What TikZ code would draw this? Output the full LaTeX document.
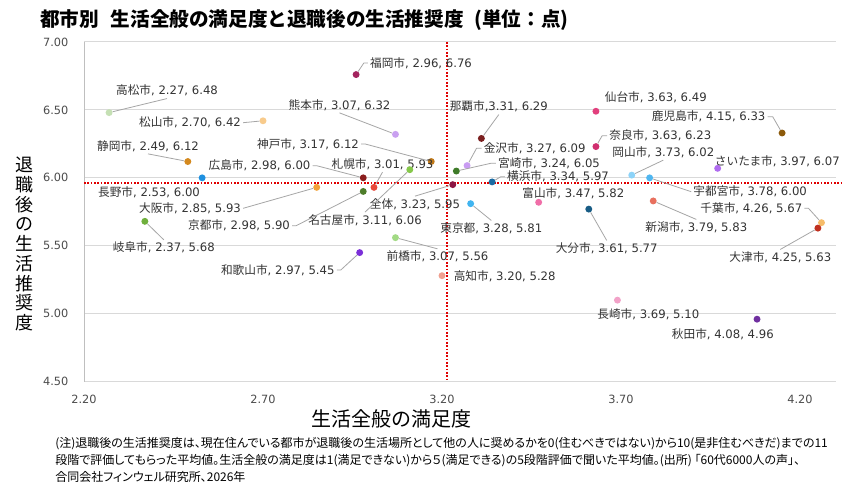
\documentclass[tikz,border=0pt]{standalone}
\usepackage{fontspec}
\setmainfont{DejaVu Sans}
\newfontfamily\jp{Noto Sans CJK JP}
\newfontfamily\jpnote[RawFeature=+palt]{Noto Sans CJK JP}

\definecolor{gridgray}{HTML}{D9D9D9}
\definecolor{leadgray}{HTML}{A6A6A6}
\definecolor{avgred}{HTML}{E00000}
\definecolor{fukuoka}{HTML}{A3245E}
\definecolor{takamatsu}{HTML}{C5E0B4}
\definecolor{kumamoto}{HTML}{C9A0F0}
\definecolor{matsuyama}{HTML}{F8CB8C}
\definecolor{shizuoka}{HTML}{D4891E}
\definecolor{kobe}{HTML}{C07818}
\definecolor{hiroshima}{HTML}{8B1E1E}
\definecolor{sapporo}{HTML}{E8483A}
\definecolor{nagano}{HTML}{1E90E0}
\definecolor{osaka}{HTML}{F2A33A}
\definecolor{kyoto}{HTML}{4E7D2A}
\definecolor{nagoya}{HTML}{86C84A}
\definecolor{zentai}{HTML}{8B1744}
\definecolor{tokyo}{HTML}{40B4F0}
\definecolor{maebashi}{HTML}{A2DA84}
\definecolor{kochi}{HTML}{F0A090}
\definecolor{gifu}{HTML}{6FAF3C}
\definecolor{wakayama}{HTML}{7B2FD8}
\definecolor{naha}{HTML}{7A1F1F}
\definecolor{sendai}{HTML}{E23F7D}
\definecolor{kagoshima}{HTML}{8C5A0A}
\definecolor{nara}{HTML}{D02F6F}
\definecolor{kanazawa}{HTML}{C99CF2}
\definecolor{miyazaki}{HTML}{3E7B28}
\definecolor{yokohama}{HTML}{1B6BA3}
\definecolor{okayama}{HTML}{8DD3F8}
\definecolor{saitama}{HTML}{B06CF0}
\definecolor{utsunomiya}{HTML}{4FB6F0}
\definecolor{toyama}{HTML}{F06EA8}
\definecolor{oita}{HTML}{185C85}
\definecolor{niigata}{HTML}{E8705E}
\definecolor{chiba}{HTML}{F6BC6A}
\definecolor{otsu}{HTML}{C0301F}
\definecolor{nagasaki}{HTML}{F2A2C8}
\definecolor{akita}{HTML}{7030A0}

\begin{document}
\begin{tikzpicture}[
  x=0.75pt,
  y=-0.75pt,
  grid line/.style={
    draw=gridgray,
    line width=0.75pt
  },
  avg line/.style={
    draw=avgred,
    line width=1.5pt,
    dash pattern=on 1.2pt off 1.3pt
  },
  dot/.style={
    circle,
    inner sep=0pt,
    minimum size=5.2pt
  },
  lbl/.style={
    font=\fontsize{8.75}{10}\selectfont,
    inner sep=1.5pt,
    text=black!80
  },
  leader/.style={
    draw=leadgray,
    line width=0.6pt
  },
  tick/.style={
    font=\fontsize{8.5}{10}\selectfont,
    text=black!70
  },
]
\fill[white] (0,0) rectangle (856,491);
\useasboundingbox (0,0) rectangle (856,491);

\node[font=\jp\bfseries\fontsize{14.7}{18}\selectfont, anchor=west, inner sep=0pt] (title) at (40,20.5)
  {都市別\hspace{0.6em}生活全般の満足度と退職後の生活推奨度\hspace{0.55em}(単位：点)};

% grid and axes
\foreach \v [count=\i from 0] in {4.50,5.00,5.50,6.00,6.50,7.00} {
  \draw[grid line] (84,{381.7-67.95*\i}) -- (836,{381.7-67.95*\i});
  \node[tick, anchor=east] (ty\i) at (73,{381.7-67.95*\i}) {\v};
}
\draw[grid line, draw=black!25] (84,42) -- (84,381.7);
\foreach \v [count=\i from 0] in {2.20,2.70,3.20,3.70,4.20}
  \node[tick] (tx\i) at ({84+179*\i},399.3) {\v};

\node[font=\jp\fontsize{15}{18}\selectfont] (xtitle) at (391.3,419.3) {生活全般の満足度};
\node[font=\jp\fontsize{13.5}{14.8}\selectfont, align=center] (ytitle) at (25,244)
  {退\\職\\後\\の\\生\\活\\推\\奨\\度};

% averages
\draw[avg line] (84,182.7) -- (843,182.7);
\draw[avg line] (446.7,42) -- (446.7,381.7);

% cities
\foreach \n/\t/\x/\y/\lx/\ly in {
  fukuoka/福岡市/2.96/6.76/421/63,
  takamatsu/高松市/2.27/6.48/167/90.7,
  kumamoto/熊本市/3.07/6.32/339.5/105,
  matsuyama/松山市/2.70/6.42/190/122.7,
  shizuoka/静岡市/2.49/6.12/148/146,
  kobe/神戸市/3.17/6.12/308/144,
  hiroshima/広島市/2.98/6.00/259.5/165.7,
  sapporo/札幌市/3.01/5.93/382.5/164.3,
  nagano/長野市/2.53/6.00/149/192.7,
  osaka/大阪市/2.85/5.93/190/208.3,
  kyoto/京都市/2.98/5.90/239/225.7,
  nagoya/名古屋市/3.11/6.06/365/220,
  zentai/全体/3.23/5.95/415/204,
  tokyo/東京都/3.28/5.81/491.3/228.3,
  maebashi/前橋市/3.07/5.56/437.5/256.7,
  kochi/高知市/3.20/5.28/504.7/276.7,
  gifu/岐阜市/2.37/5.68/163.8/247.7,
  wakayama/和歌山市/2.97/5.45/277.8/270,
  sendai/仙台市/3.63/6.49/655.8/97.3,
  kagoshima/鹿児島市/4.15/6.33/708.7/116.7,
  nara/奈良市/3.63/6.23/660.3/135.7,
  kanazawa/金沢市/3.27/6.09/534.7/148.3,
  miyazaki/宮崎市/3.24/6.05/549/163.3,
  yokohama/横浜市/3.34/5.97/558/176.7,
  okayama/岡山市/3.73/6.02/663.3/152.3,
  saitama/さいたま市/3.97/6.07/777.3/161.7,
  utsunomiya/宇都宮市/3.78/6.00/750.2/191.7,
  toyama/富山市/3.47/5.82/573.3/193.3,
  oita/大分市/3.61/5.77/606.7/248.3,
  niigata/新潟市/3.79/5.83/696.3/227.3,
  chiba/千葉市/4.26/5.67/751.3/208.3,
  otsu/大津市/4.25/5.63/780.3/257.3,
  nagasaki/長崎市/3.69/5.10/648.3/314.3,
  akita/秋田市/4.08/4.96/722.8/334.3} {
  \node[dot, fill=\n] (p\n) at ({84+358*(\x-2.2)},{381.7-135.9*(\y-4.5)}) {};
  \node[lbl] (l\n) at (\lx,\ly) {{\jp\t}, \x, \y};
}
\node[dot, fill=naha] (pnaha) at ({84+358*(3.31-2.2)},{381.7-135.9*(6.29-4.5)}) {};
\node[lbl] (lnaha) at (498.8,106.7) {{\jp 那覇市},3.31, 6.29};

% leader lines
\foreach \n/\a/\s in {
  fukuoka/west/-4, takamatsu/south/0, kumamoto/south/0, matsuyama/east/0,
  shizuoka/south/0, kobe/east/4, hiroshima/east/4, sapporo/south/0,
  osaka/east/0, kyoto/east/4, nagoya/north/0, zentai/north/0,
  tokyo/north/0, maebashi/north/0, gifu/north/0, wakayama/east/4,
  naha/south/0, kagoshima/east/5, nara/west/-5, kanazawa/west/-5,
  miyazaki/west/-5, yokohama/west/-4, okayama/south/0, utsunomiya/west/0,
  oita/north/0, niigata/north/0, chiba/east/4, otsu/north/0}
  \draw[leader] (l\n.\a) -- ++(\s,0) -- (p\n);

\node[font=\jpnote\fontsize{9}{12.75}\selectfont, align=left, anchor=north west, inner sep=0pt] (note) at (55,437.5)
  {(注)退職後の生活推奨度は、現在住んでいる都市が退職後の生活場所として他の人に奨めるかを0(住むべきではない)から10(是非住むべきだ)までの11\\
   段階で評価してもらった平均値。生活全般の満足度は1(満足できない)から５(満足できる)の5段階評価で聞いた平均値。(出所) 「60代6000人の声」、\\
   合同会社フィンウェル研究所、2026年};
\end{tikzpicture}
\end{document}
